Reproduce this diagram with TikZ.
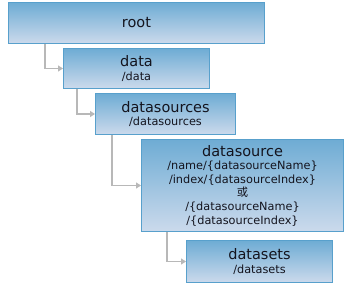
\documentclass[tikz,border=0pt]{standalone}
\usepackage{fontspec}
\setmainfont{DejaVu Sans}
\newfontfamily\cjk{Noto Sans CJK SC}
\usetikzlibrary{arrows.meta}
\definecolor{boxtop}{RGB}{110,172,212}
\definecolor{boxbot}{RGB}{204,218,236}
\definecolor{boxline}{RGB}{88,160,204}
\definecolor{conn}{RGB}{184,184,184}
\definecolor{txt}{RGB}{20,20,30}
\tikzset{
  box/.style={draw=boxline, line width=1pt, top color=boxtop, bottom color=boxbot,
    anchor=north west, align=center, inner sep=0pt, text=txt,
    font=\fontsize{11.3}{13.6}\selectfont},
  conn/.style={draw=conn, line width=1.5pt, -{Triangle[length=5pt,width=6pt]}}
}
\newcommand{\ttlfont}{\fontsize{14.5}{15.5}\selectfont}
\begin{document}
\begin{tikzpicture}[x=1pt,y=-1pt]
\useasboundingbox (0,0) rectangle (352,288);
\node[box, minimum width=256, minimum height=41] (root) at (8,2) {\ttlfont root};
\node[box, minimum width=146, minimum height=40] (data) at (63,48) {{\ttlfont data}\\/data};
\node[box, minimum width=140, minimum height=41] (dss) at (95,93) {{\ttlfont datasources}\\/datasources};
\node[box, minimum width=202, minimum height=92] (ds) at (141,139) {{\ttlfont datasource}\\/name/\{datasourceName\}\\/index/\{datasourceIndex\}\\{\cjk 或}\\/\{datasourceName\}\\/\{datasourceIndex\}};
\node[box, minimum width=146, minimum height=42] (dset) at (186,240) {{\ttlfont datasets}\\/datasets};
\draw[conn] (root.south west) ++(37,0) |- (data.west);
\draw[conn] (data.south west) ++(14,0) |- (dss.west);
\draw[conn] (dss.south west) ++(17,0) |- (ds.west);
\draw[conn] (ds.south west) ++(26,0) |- (dset.west);
\end{tikzpicture}
\end{document}
